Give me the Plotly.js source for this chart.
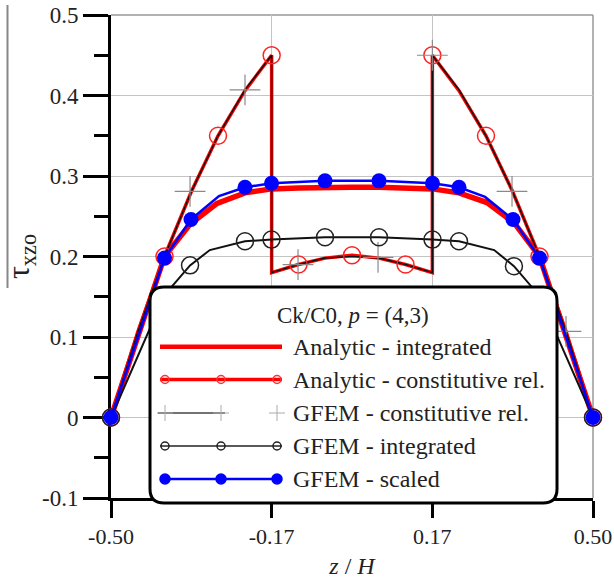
<!DOCTYPE html>
<html>
<head>
<meta charset="utf-8">
<script src="https://cdn.plot.ly/plotly-3.0.1.min.js"></script>
<style>
html,body{margin:0;padding:0;background:#fff;}
#chart{width:614px;height:579px;}
</style>
</head>
<body>
<div id="chart"></div>
<script>
// ---------------- DATA ----------------
// x tick labels
const xTickVals = [-0.5, -0.1667, 0.1667, 0.5];
const xTickText = ["-0.50", "-0.17", "0.17", "0.50"];
const yTickVals = [-0.1, 0, 0.1, 0.2, 0.3, 0.4, 0.5];
const yTickText = ["-0.1", "0", "0.1", "0.2", "0.3", "0.4", "0.5"];
const yMinorVals = [-0.05, 0.05, 0.15, 0.25, 0.35, 0.45];

// Analytic - integrated (thick red line)
const anaIntZ = [-0.5, -0.389, -0.336, -0.28, -0.222, -0.167, -0.111, -0.056, 0, 0.056, 0.111, 0.167, 0.222, 0.28, 0.336, 0.389, 0.5];
const anaIntT = [0, 0.2, 0.24, 0.266, 0.279, 0.284, 0.285, 0.286, 0.286, 0.286, 0.285, 0.284, 0.279, 0.267, 0.242, 0.2, 0];

// Analytic - constitutive rel. (red line, discontinuous at layer interfaces)
const anaConZ = [-0.5, -0.444, -0.389, -0.333, -0.278, -0.222, -0.1667, -0.1667, -0.111, -0.056, 0, 0.056, 0.111, 0.1667, 0.1667, 0.222, 0.278, 0.333, 0.389, 0.444, 0.5];
const anaConT = [0, 0.107, 0.2, 0.281, 0.35, 0.406, 0.45, 0.18, 0.19, 0.198, 0.2015, 0.198, 0.19, 0.18, 0.45, 0.406, 0.35, 0.281, 0.2, 0.107, 0];
// its open-circle symbols
const anaConMZ = [-0.5, -0.389, -0.278, -0.1667, -0.111, 0, 0.111, 0.1667, 0.278, 0.389, 0.5];
const anaConMT = [0, 0.2, 0.35, 0.45, 0.19, 0.2015, 0.19, 0.45, 0.35, 0.2, 0];

// GFEM - constitutive rel. (thin black line, gray crosses)
const gfemConZ = [-0.5, -0.444, -0.389, -0.333, -0.278, -0.222, -0.1667, -0.1667, -0.111, -0.056, 0, 0.056, 0.111, 0.1667, 0.1667, 0.222, 0.278, 0.333, 0.389, 0.444, 0.5];
const gfemConT = [0, 0.107, 0.2, 0.281, 0.35, 0.407, 0.45, 0.18, 0.19, 0.198, 0.2, 0.198, 0.19, 0.18, 0.45, 0.407, 0.35, 0.281, 0.2, 0.107, 0];
const gfemConMZ = [-0.336, -0.222, -0.112, 0.054, 0.1667, 0.332, 0.444];
const gfemConMT = [0.281, 0.407, 0.19, 0.199, 0.45, 0.281, 0.107];

// GFEM - integrated (black line, open black circles)
const gfemIntZ = [-0.5, -0.389, -0.336, -0.295, -0.222, -0.167, -0.056, 0.056, 0.167, 0.222, 0.295, 0.336, 0.389, 0.5];
const gfemIntT = [0, 0.152, 0.189, 0.208, 0.219, 0.221, 0.224, 0.224, 0.221, 0.219, 0.208, 0.188, 0.151, 0];
const gfemIntMZ = [-0.5, -0.389, -0.336, -0.222, -0.167, -0.056, 0.056, 0.167, 0.222, 0.336, 0.389, 0.5];
const gfemIntMT = [0, 0.152, 0.189, 0.219, 0.221, 0.224, 0.224, 0.221, 0.219, 0.188, 0.151, 0];

// GFEM - scaled (blue line, filled blue circles)
const gfemScZ = [-0.5, -0.389, -0.334, -0.276, -0.222, -0.167, -0.056, 0.056, 0.167, 0.222, 0.276, 0.334, 0.389, 0.5];
const gfemScT = [0, 0.198, 0.246, 0.275, 0.286, 0.291, 0.294, 0.294, 0.291, 0.286, 0.274, 0.246, 0.198, 0];
const gfemScMZ = [-0.5, -0.389, -0.334, -0.222, -0.167, -0.056, 0.056, 0.167, 0.222, 0.334, 0.389, 0.5];
const gfemScMT = [0, 0.198, 0.246, 0.286, 0.291, 0.294, 0.294, 0.291, 0.286, 0.246, 0.198, 0];

// legend entries
const legendTitle = "Ck/C0, <i>p</i> = (4,3)";
const legendLabels = ["Analytic - integrated", "Analytic - constitutive rel.", "GFEM - constitutive rel.", "GFEM - integrated", "GFEM - scaled"];

// ---------------- STYLE / LAYOUT ----------------
const FONT = "'Liberation Serif', 'Times New Roman', serif";
const RED = "#ff0000", BLUE = "#0000ff", BLACK = "#111111", GRAY = "#8a8a8a";
const W = 614, H = 579, ML = 111, MR = 21, MT = 15, MB = 81;
const PW = W - ML - MR, PH = H - MT - MB;
const px = v => (v - ML) / PW;           // pixel x -> paper
const py = v => (H - MB - v) / PH;       // pixel y -> paper

const traces = [
  {x: anaIntZ, y: anaIntT, mode: "lines", line: {color: RED, width: 5.5}, cliponaxis: false, showlegend: false, hoverinfo: "skip"},
  {x: anaConZ, y: anaConT, mode: "lines", line: {color: RED, width: 3.5}, cliponaxis: false, showlegend: false, hoverinfo: "skip"},
  {x: gfemConZ, y: gfemConT, mode: "lines", line: {color: BLACK, width: 1.5}, cliponaxis: false, showlegend: false, hoverinfo: "skip"},
  {x: anaConMZ, y: anaConMT, mode: "markers", marker: {symbol: "circle-open", size: 17, color: "#f22", line: {width: 1.5, color: "#f22"}}, cliponaxis: false, showlegend: false, hoverinfo: "skip"},
  {x: gfemConMZ, y: gfemConMT, mode: "markers", marker: {symbol: "cross-thin-open", size: 22, color: GRAY, line: {width: 1.2, color: GRAY}}, cliponaxis: false, showlegend: false, hoverinfo: "skip"},
  {x: gfemIntZ, y: gfemIntT, mode: "lines", line: {color: BLACK, width: 2}, cliponaxis: false, showlegend: false, hoverinfo: "skip"},
  {x: gfemIntMZ, y: gfemIntMT, mode: "markers", marker: {symbol: "circle-open", size: 17, color: "#222", line: {width: 1.5, color: "#222"}}, cliponaxis: false, showlegend: false, hoverinfo: "skip"},
  {x: gfemScZ, y: gfemScT, mode: "lines", line: {color: BLUE, width: 2.5}, cliponaxis: false, showlegend: false, hoverinfo: "skip"},
  {x: gfemScMZ, y: gfemScMT, mode: "markers", marker: {symbol: "circle", size: 15, color: BLUE}, cliponaxis: false, showlegend: false, hoverinfo: "skip"}
];

// custom legend (rounded box, samples, labels)
const bx0 = px(150), bx1 = px(557), by1 = py(287), by0 = py(503);
const rx = 14 / PW, ry = 14 / PH;
const boxPath = `M ${bx0+rx},${by1} L ${bx1-rx},${by1} Q ${bx1},${by1} ${bx1},${by1-ry} L ${bx1},${by0+ry} Q ${bx1},${by0} ${bx1-rx},${by0} L ${bx0+rx},${by0} Q ${bx0},${by0} ${bx0},${by0+ry} L ${bx0},${by1-ry} Q ${bx0},${by1} ${bx0+rx},${by1} Z`;

const rowY = [346.7, 379.5, 413, 446, 479];
const sampleX0 = 160, sampleX1 = 282, sampleMarks = [165, 221, 277];

const shapes = [
  // gray frame top & right
  {type: "line", xref: "paper", yref: "paper", x0: 0, x1: 1, y0: 1, y1: 1, line: {color: "#999", width: 1.5}, layer: "below"},
  {type: "line", xref: "paper", yref: "paper", x0: 1, x1: 1, y0: 0, y1: 1, line: {color: "#999", width: 1.5}, layer: "below"},
  // stray vertical bar at far left
  {type: "line", xref: "paper", yref: "paper", x0: px(7.5), x1: px(7.5), y0: py(5), y1: py(288), line: {color: "#888", width: 2}},
  // legend box
  {type: "path", xref: "paper", yref: "paper", path: boxPath, fillcolor: "#ffffff", line: {color: "#000", width: 3}, layer: "above"}
];

function sampleLine(row, color, width, x0, x1) {
  shapes.push({type: "line", xref: "paper", yref: "paper", x0: px(x0), x1: px(x1), y0: py(rowY[row]), y1: py(rowY[row]), line: {color: color, width: width}, layer: "above"});
}
function sampleCircle(row, xpx, r, lineColor, fill) {
  shapes.push({type: "circle", xref: "paper", yref: "paper", xsizemode: "pixel", ysizemode: "pixel",
    xanchor: px(xpx), yanchor: py(rowY[row]), x0: -r, x1: r, y0: -r, y1: r,
    line: {color: lineColor, width: 1.5}, fillcolor: fill, layer: "above"});
}
function sampleCross(row, xpx, r, color) {
  shapes.push({type: "line", xref: "paper", yref: "paper", xsizemode: "pixel", ysizemode: "pixel",
    xanchor: px(xpx), yanchor: py(rowY[row]), x0: -r, x1: r, y0: 0, y1: 0, line: {color: color, width: 1}, layer: "above"});
  shapes.push({type: "line", xref: "paper", yref: "paper", xsizemode: "pixel", ysizemode: "pixel",
    xanchor: px(xpx), yanchor: py(rowY[row]), x0: 0, x1: 0, y0: -r, y1: r, line: {color: color, width: 1}, layer: "above"});
}
sampleLine(0, RED, 4.5, sampleX0, sampleX1);
sampleLine(1, RED, 3.5, sampleX0, sampleX1);
sampleMarks.forEach(m => sampleCircle(1, m, 4, "#f33", "rgba(0,0,0,0)"));
sampleLine(2, "#444", 1.5, 158, 225);
sampleMarks.forEach(m => sampleCross(2, m, 8, "#aaa"));
sampleLine(3, "#222", 1.5, sampleX0, sampleX1);
sampleMarks.forEach(m => sampleCircle(3, m, 4, "#222", "rgba(0,0,0,0)"));
sampleLine(4, BLUE, 2.5, sampleX0, sampleX1);
sampleMarks.forEach(m => sampleCircle(4, m, 5, BLUE, BLUE));

const annotations = [
  {xref: "paper", yref: "paper", x: px(353), y: py(315), text: legendTitle, showarrow: false, xanchor: "center", yanchor: "middle", font: {family: FONT, size: 23, color: "#222"}}
];
legendLabels.forEach((t, i) => annotations.push({
  xref: "paper", yref: "paper", x: px(291), y: py(rowY[i]), text: t, showarrow: false,
  xanchor: "left", yanchor: "middle", font: {family: FONT, size: 24, color: "#222"}
}));

const layout = {
  width: W, height: H,
  margin: {l: ML, r: MR, t: MT, b: MB, pad: 0},
  paper_bgcolor: "#fff", plot_bgcolor: "#fff",
  font: {family: FONT, color: "#222", size: 22},
  showlegend: false,
  xaxis: {
    range: [-0.5, 0.5], tickmode: "array", tickvals: xTickVals, ticktext: xTickText,
    showline: true, linecolor: "#000", linewidth: 3,
    ticks: "outside", ticklen: 17, tickwidth: 3, tickcolor: "#000",
    showgrid: true, gridcolor: "#c4c4c4", gridwidth: 1, zeroline: false,
    tickfont: {family: FONT, size: 22, color: "#222"},
    title: {text: "<i>z</i> / <i>H</i>", font: {family: FONT, size: 24, color: "#222"}, standoff: 11},
    layer: "below traces", automargin: false, fixedrange: true
  },
  yaxis: {
    range: [-0.1, 0.5], tickmode: "array", tickvals: yTickVals, ticktext: yTickText,
    showline: true, linecolor: "#000", linewidth: 3,
    ticks: "outside", ticklen: 25, tickwidth: 3, tickcolor: "#000",
    minor: {tickmode: "array", tickvals: yMinorVals, ticks: "outside", ticklen: 14, tickwidth: 3, tickcolor: "#000", showgrid: false},
    showgrid: true, gridcolor: "#c4c4c4", gridwidth: 1, zeroline: false,
    tickfont: {family: FONT, size: 23, color: "#222"},
    title: {text: "τ<sub>xzo</sub>", font: {family: FONT, size: 32, color: "#222"}, standoff: 4},
    layer: "below traces", automargin: false, fixedrange: true
  },
  shapes: shapes,
  annotations: annotations
};

Plotly.newPlot("chart", traces, layout, {displayModeBar: false, staticPlot: true});
</script>
</body>
</html>
